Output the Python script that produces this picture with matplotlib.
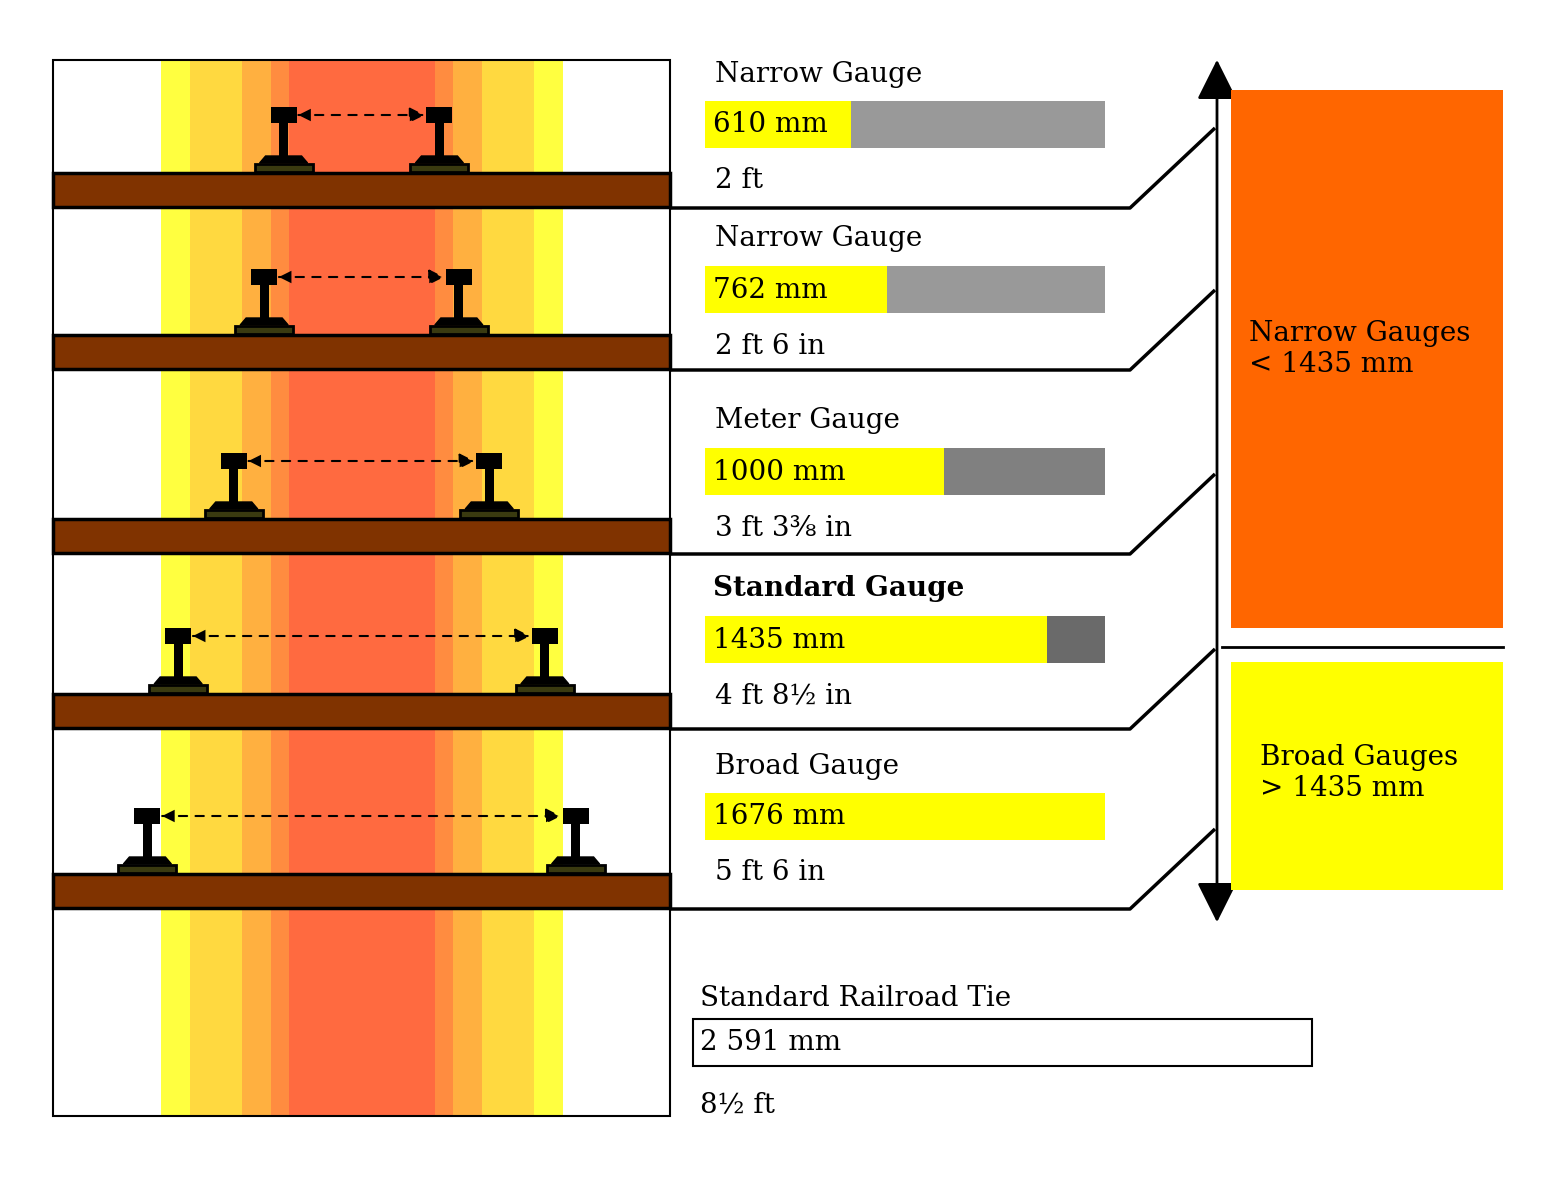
import matplotlib
matplotlib.use("Agg")
import matplotlib.pyplot as plt
from matplotlib.patches import Rectangle, Polygon, FancyArrowPatch

gauge_titles = ["Narrow Gauge", "Narrow Gauge", "Meter Gauge", "Standard Gauge", "Broad Gauge"]
gauge_mm = [610, 762, 1000, 1435, 1676]
gauge_mm_labels = ["610 mm", "762 mm", "1000 mm", "1435 mm", "1676 mm"]
gauge_ft_labels = ["2 ft", "2 ft 6 in", "3 ft 3⅜ in", "4 ft 8½ in", "5 ft 6 in"]
gray_colors = ["#999999", "#999999", "#808080", "#6a6a6a", "#6a6a6a"]
tie_mm = 2591
tie_title = "Standard Railroad Tie"
tie_mm_label = "2 591 mm"
tie_ft_label = "8½ ft"

fig = plt.figure(figsize=(15.6, 11.99), dpi=100)
ax = fig.add_axes([0, 0, 1, 1])
ax.set_xlim(0, 1560); ax.set_ylim(1199, 0); ax.axis("off")

# background stripes
stripes = [(161, 190, "#ffff40"), (190, 242, "#ffd940"), (242, 271, "#ffb040"),
           (271, 289, "#ff8c40"), (289, 435, "#ff6a40"), (435, 453, "#ff8c40"),
           (453, 482, "#ffb040"), (482, 534, "#ffd940"), (534, 563, "#ffff40")]
for x0, x1, c in stripes:
    ax.add_patch(Rectangle((x0, 60), x1 - x0, 1056, color=c, lw=0))
ax.add_patch(Rectangle((53, 60), 617, 1056, fill=False, ec="black", lw=1.5))

tie_tops = [173, 335, 519, 694, 874]
row_title_y = [74, 239, 421, 589, 766]
rail_scale = 0.2555
center = 361.5
bar_scale = 400 / 1676.0

def rail(cx, ybot):
    # base plate
    ax.add_patch(Rectangle((cx - 29, ybot - 9), 58, 8, fc="#3a3a10", ec="black", lw=2))
    ax.add_patch(Polygon([(cx - 24, ybot - 10), (cx + 24, ybot - 10), (cx + 18, ybot - 17),
                          (cx - 18, ybot - 17)], fc="black", ec="black"))
    ax.add_patch(Rectangle((cx - 4.5, ybot - 52), 9, 36, fc="black", lw=0))
    ax.add_patch(Rectangle((cx - 13, ybot - 66), 26, 16, fc="black", lw=0))

for i in range(5):
    top = tie_tops[i]
    ax.add_patch(Rectangle((53, top), 617, 34, fc="#803300", ec="black", lw=2.5))
    half = gauge_mm[i] * rail_scale / 2
    xl, xr = center - half, center + half
    rail(xl, top)
    rail(xr, top)
    ay = top - 58
    ax.add_patch(FancyArrowPatch((xl + 12, ay), (xr - 12, ay), arrowstyle="-|>,head_length=6,head_width=3",
                                 mutation_scale=1.5, ls=(0, (4, 4)), color="black", lw=1.5))
    ax.add_patch(FancyArrowPatch((xr - 12, ay), (xl + 12, ay), arrowstyle="-|>,head_length=6,head_width=3",
                                 mutation_scale=1.5, lw=0, color="black"))
    # connector line
    yb = top + 35
    ax.plot([670, 1130, 1215], [yb, yb, yb - 80], color="black", lw=2.5, solid_capstyle="butt")
    # labels
    ty = row_title_y[i]
    ax.text(713 if i == 3 else 715, ty, gauge_titles[i], fontsize=20, family="DejaVu Serif",
            va="center", fontweight="bold" if i == 3 else "normal")
    by = ty + 27
    w = gauge_mm[i] * bar_scale
    ax.add_patch(Rectangle((705, by), 400, 47, fc=gray_colors[i], lw=0))
    ax.add_patch(Rectangle((705, by), w, 47, fc="#ffff00", lw=0))
    ax.text(713, by + 24, gauge_mm_labels[i], fontsize=20, family="DejaVu Serif", va="center")
    ax.text(715, ty + 107, gauge_ft_labels[i], fontsize=20, family="DejaVu Serif", va="center")

# tie bar
ax.text(700, 998, tie_title, fontsize=20, family="DejaVu Serif", va="center")
ax.add_patch(Rectangle((693, 1019), tie_mm * bar_scale * 0.9 + 62, 47, fill=False, ec="black", lw=1.5))
ax.text(700, 1043, tie_mm_label, fontsize=20, family="DejaVu Serif", va="center")
ax.text(700, 1105, tie_ft_label, fontsize=20, family="DejaVu Serif", va="center")

# right side
ax.add_patch(FancyArrowPatch((1217, 57), (1217, 925), arrowstyle="<|-|>,head_length=10,head_width=5",
                             mutation_scale=2.5, color="black", lw=2))
ax.add_patch(Rectangle((1231, 90), 272, 538, fc="#ff6600", lw=0))
ax.plot([1222, 1503], [647, 647], color="black", lw=2)
ax.add_patch(Rectangle((1231, 662), 272, 228, fc="#ffff00", lw=0))
ax.text(1249, 349, "Narrow Gauges\n< 1435 mm", fontsize=20, family="DejaVu Serif", va="center", linespacing=1.2)
ax.text(1260, 773, "Broad Gauges\n> 1435 mm", fontsize=20, family="DejaVu Serif", va="center", linespacing=1.2)

fig.savefig("out.png", dpi=100)
